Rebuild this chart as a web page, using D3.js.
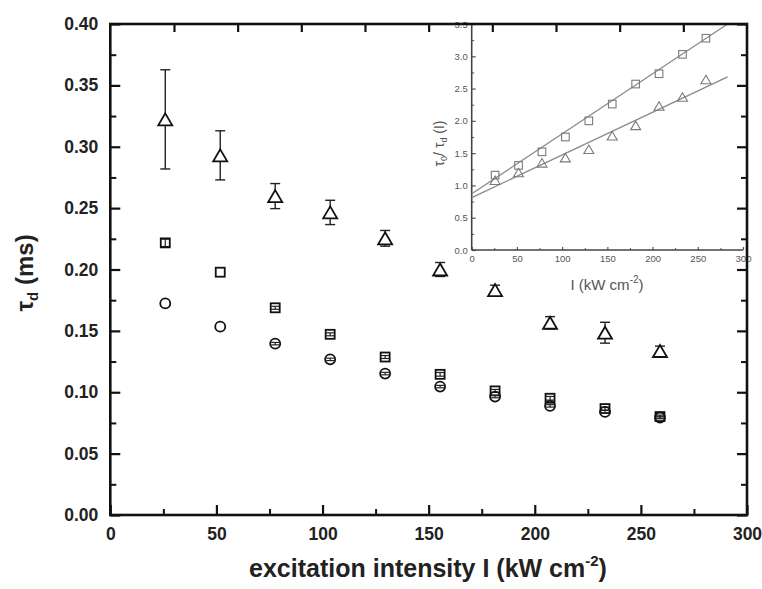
<!DOCTYPE html>
<html><head><meta charset="utf-8">
<script src="https://cdn.jsdelivr.net/npm/d3@7"></script>
<style>body{margin:0;background:#fff}</style>
</head><body><svg id="c" width="762" height="589" xmlns="http://www.w3.org/2000/svg"></svg>
<script>
// ---- data ----
const intensity = [25.9, 51.8, 77.7, 103.6, 129.5, 155.4, 181.3, 207.2, 233.1, 259.0];
const tauTriangle = [0.3223, 0.2930, 0.2598, 0.2465, 0.2254, 0.2000, 0.1832, 0.1566, 0.1485, 0.1336];
const errTriangle = [0.0404, 0.0200, 0.0102, 0.0099, 0.0064, 0.0057, 0.0040, 0.0050, 0.0085, 0.0040];
const tauSquare = [0.2217, 0.1978, 0.1688, 0.1472, 0.1287, 0.1146, 0.1011, 0.0951, 0.0867, 0.0802];
const errSquare = [0.0030, 0.0000, 0.0012, 0.0012, 0.0012, 0.0015, 0.0012, 0.0015, 0.0012, 0.0012];
const tauCircle = [0.1724, 0.1534, 0.1396, 0.1268, 0.1152, 0.1046, 0.0965, 0.0889, 0.0840, 0.0794];
const errCircle = [0.0000, 0.0000, 0.0010, 0.0010, 0.0010, 0.0010, 0.0010, 0.0010, 0.0012, 0.0010];

const insetSquare = [1.16, 1.31, 1.52, 1.75, 2.00, 2.26, 2.57, 2.73, 3.03, 3.28];
const insetTriangle = [1.08, 1.20, 1.35, 1.43, 1.56, 1.77, 1.93, 2.23, 2.37, 2.64];
const fitX = [0, 283];
const fitSquare = [0.87, 3.50];
const fitTriangle = [0.81, 2.68];

const xTickLabels = [0, 50, 100, 150, 200, 250, 300];
const xMinorTicks = [25, 75, 125, 175, 225, 275];
const topTicks = [30, 60, 90, 120, 150, 180, 210, 240, 270];
const yTickLabels = [0.00, 0.05, 0.10, 0.15, 0.20, 0.25, 0.30, 0.35, 0.40];
const yMinorTicks = [0.025, 0.075, 0.125, 0.175, 0.225, 0.275, 0.325, 0.375];
const insetXTicks = [0, 50, 100, 150, 200, 250, 300];
const insetXMinor = [25, 75, 125, 175, 225, 275];
const insetYTicks = [0.0, 0.5, 1.0, 1.5, 2.0, 2.5, 3.0, 3.5];
const insetYMinor = [0.25, 0.75, 1.25, 1.75, 2.25, 2.75, 3.25];

// ---- setup ----
const svg = d3.select('#c');
const F = 'Arial, "Liberation Sans", sans-serif';
const x = d3.scaleLinear().domain([0, 300]).range([110.3, 747]);
const y = d3.scaleLinear().domain([0, 0.4]).range([515, 24]);

const ix = d3.scaleLinear().domain([0, 300]).range([471.7, 743]);
const iy = d3.scaleLinear().domain([0, 3.5]).range([250, 24]);

function styleAxis(g, col, w) {
  g.select('.domain').remove();
  g.selectAll('line').attr('stroke', col).attr('stroke-width', w);
}

// ---- inset (drawn first, main frame on top) ----
const inset = svg.append('g');
// inset axes
const iyAx = inset.append('g').attr('transform', `translate(${ix(0)},0)`)
  .call(d3.axisLeft(iy).tickValues(insetYTicks).tickSize(-4).tickPadding(4).tickFormat(d3.format('.1f')));
styleAxis(iyAx, '#555', 1.2);
iyAx.selectAll('text').attr('font-family', F).attr('font-size', 9.5).attr('fill', '#555');
const iyMin = inset.append('g').attr('transform', `translate(${ix(0)},0)`)
  .call(d3.axisLeft(iy).tickValues(insetYMinor).tickSize(-2.5).tickFormat(''));
styleAxis(iyMin, '#555', 1);

const ixAx = inset.append('g').attr('transform', `translate(0,${iy(0)})`)
  .call(d3.axisBottom(ix).tickValues(insetXTicks).tickSize(-3).tickPadding(5).tickFormat(d3.format('d')));
styleAxis(ixAx, '#555', 1.2);
ixAx.selectAll('text').attr('font-family', F).attr('font-size', 9.5).attr('fill', '#555');
const ixMin = inset.append('g').attr('transform', `translate(0,${iy(0)})`)
  .call(d3.axisBottom(ix).tickValues(insetXMinor).tickSize(-2).tickFormat(''));
styleAxis(ixMin, '#555', 1);

inset.append('line').attr('x1', ix(0)).attr('x2', ix(0)).attr('y1', iy(0)).attr('y2', iy(3.5))
  .attr('stroke', '#444').attr('stroke-width', 1.6);
inset.append('line').attr('x1', ix(0)).attr('x2', ix(300)).attr('y1', iy(0)).attr('y2', iy(0))
  .attr('stroke', '#444').attr('stroke-width', 1.6);

// fit lines
const fitLine = d3.line().x(d => ix(d[0])).y(d => iy(d[1]));
[fitSquare, fitTriangle].forEach(f => {
  inset.append('path').attr('d', fitLine(fitX.map((v, i) => [v, f[i]])))
    .attr('fill', 'none').attr('stroke', '#8a8a8a').attr('stroke-width', 1.3);
});
// inset markers
inset.selectAll('.isq').data(intensity).enter().append('rect')
  .attr('x', (d) => ix(d) - 3.8).attr('y', (d, i) => iy(insetSquare[i]) - 3.8)
  .attr('width', 7.6).attr('height', 7.6)
  .attr('fill', 'none').attr('stroke', '#7a7a7a').attr('stroke-width', 1.1);
function triPath(cx, cy, w, h) {
  return `M${cx},${cy - h / 2}L${cx + w / 2},${cy + h / 2}L${cx - w / 2},${cy + h / 2}Z`;
}
inset.selectAll('.itr').data(intensity).enter().append('path')
  .attr('d', (d, i) => triPath(ix(d), iy(insetTriangle[i]), 10, 8.5))
  .attr('fill', 'none').attr('stroke', '#7a7a7a').attr('stroke-width', 1.1);

// inset labels
const iyl = inset.append('text').attr('font-family', F).attr('font-size', 14).attr('fill', '#555')
  .attr('text-anchor', 'middle').attr('transform', `translate(444,${iy(1.65)}) rotate(-90)`);
iyl.append('tspan').text('τ');
iyl.append('tspan').attr('font-size', 9).attr('dy', 3).text('0');
iyl.append('tspan').attr('dy', -3).text('/ τ');
iyl.append('tspan').attr('font-size', 9).attr('dy', 3).text('d');
iyl.append('tspan').attr('dy', -3).text(' (I)');

const ixl = inset.append('text').attr('font-family', F).attr('font-size', 15).attr('fill', '#555')
  .attr('text-anchor', 'middle').attr('x', 607).attr('y', 290);
ixl.append('tspan').text('I (kW cm');
ixl.append('tspan').attr('font-size', 10).attr('dy', -7).text('-2');
ixl.append('tspan').attr('dy', 7).text(')');

// ---- main axes ----
const main = svg.append('g');
const yAx = main.append('g').attr('transform', `translate(${x(0)},0)`)
  .call(d3.axisLeft(y).tickValues(yTickLabels).tickSize(-10).tickPadding(12).tickFormat(d3.format('.2f')));
styleAxis(yAx, '#111', 2.2);
yAx.selectAll('text').attr('font-family', F).attr('font-size', 17.5).attr('font-weight', 'bold').attr('fill', '#222');
const yMin = main.append('g').attr('transform', `translate(${x(0)},0)`)
  .call(d3.axisLeft(y).tickValues(yMinorTicks).tickSize(-6).tickFormat(''));
styleAxis(yMin, '#111', 2);

const yR = main.append('g').attr('transform', `translate(${x(300)},0)`)
  .call(d3.axisRight(y).tickValues(yTickLabels).tickSize(-10).tickFormat(''));
styleAxis(yR, '#111', 2.2);
const yRMin = main.append('g').attr('transform', `translate(${x(300)},0)`)
  .call(d3.axisRight(y).tickValues(yMinorTicks).tickSize(-6).tickFormat(''));
styleAxis(yRMin, '#111', 2);

const xAx = main.append('g').attr('transform', `translate(0,${y(0)})`)
  .call(d3.axisBottom(x).tickValues(xTickLabels).tickSize(-10).tickPadding(13).tickFormat(d3.format('d')));
styleAxis(xAx, '#111', 2.2);
xAx.selectAll('text').attr('font-family', F).attr('font-size', 17.5).attr('font-weight', 'bold').attr('fill', '#222');
const xMin = main.append('g').attr('transform', `translate(0,${y(0)})`)
  .call(d3.axisBottom(x).tickValues(xMinorTicks).tickSize(-6).tickFormat(''));
styleAxis(xMin, '#111', 2);

const xTop = main.append('g').attr('transform', `translate(0,${y(0.4)})`)
  .call(d3.axisTop(x).tickValues(topTicks).tickSize(-8).tickFormat(''));
styleAxis(xTop, '#111', 2.2);

main.append('rect').attr('x', x(0)).attr('y', y(0.4)).attr('width', x(300) - x(0)).attr('height', y(0) - y(0.4))
  .attr('fill', 'none').attr('stroke', '#111').attr('stroke-width', 2.6);

// ---- main data ----
function errBars(vals, errs, capW, sw) {
  const g = main.append('g').attr('stroke', '#222').attr('stroke-width', sw).attr('fill', 'none');
  intensity.forEach((xi, i) => {
    if (!errs[i]) return;
    const cx = x(xi), y1 = y(vals[i] + errs[i]), y2 = y(vals[i] - errs[i]);
    g.append('line').attr('x1', cx).attr('x2', cx).attr('y1', y1).attr('y2', y2);
    g.append('line').attr('x1', cx - capW / 2).attr('x2', cx + capW / 2).attr('y1', y1).attr('y2', y1);
    g.append('line').attr('x1', cx - capW / 2).attr('x2', cx + capW / 2).attr('y1', y2).attr('y2', y2);
  });
}
errBars(tauTriangle, errTriangle, 10, 1.4);
main.selectAll('.tri').data(intensity).enter().append('path')
  .attr('d', (d, i) => triPath(x(d), y(tauTriangle[i]), 14, 12))
  .attr('fill', '#fff').attr('stroke', '#111').attr('stroke-width', 1.8).attr('stroke-linejoin', 'miter');

errBars(tauSquare, errSquare, 8, 1.2);
main.selectAll('.sq').data(intensity).enter().append('rect')
  .attr('x', d => x(d) - 4.5).attr('y', (d, i) => y(tauSquare[i]) - 4.5)
  .attr('width', 9).attr('height', 9)
  .attr('fill', 'none').attr('stroke', '#111').attr('stroke-width', 1.8);

errBars(tauCircle, errCircle, 8, 1.2);
main.selectAll('.ci').data(intensity).enter().append('circle')
  .attr('cx', d => x(d)).attr('cy', (d, i) => y(tauCircle[i])).attr('r', 5)
  .attr('fill', 'none').attr('stroke', '#111').attr('stroke-width', 1.8);

// ---- main labels ----
const xl = svg.append('text').attr('font-family', F).attr('font-size', 25).attr('font-weight', 'bold')
  .attr('fill', '#222').attr('text-anchor', 'middle').attr('x', 428).attr('y', 577);
xl.append('tspan').text('excitation intensity I (kW cm');
xl.append('tspan').attr('font-size', 15).attr('dy', -11).text('-2');
xl.append('tspan').attr('dy', 11).text(')');

const yl = svg.append('text').attr('font-family', F).attr('font-size', 24).attr('font-weight', 'bold')
  .attr('fill', '#222').attr('text-anchor', 'middle').attr('transform', `translate(33,273) rotate(-90)`);
yl.append('tspan').text('τ');
yl.append('tspan').attr('font-size', 15).attr('dy', 5).text('d');
yl.append('tspan').attr('dy', -5).text(' (ms)');
</script>
</body></html>
